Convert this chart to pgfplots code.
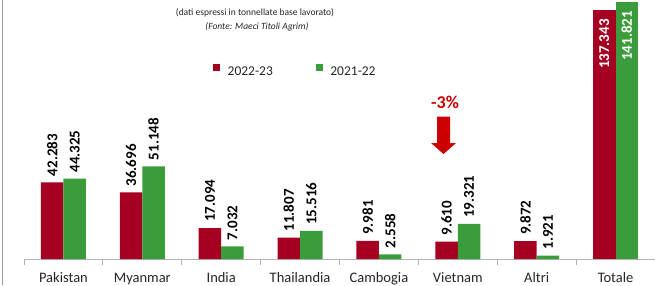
\documentclass[border=0pt]{standalone}
\usepackage{pgfplots}
\pgfplotsset{compat=1.18}
\usepackage{fontspec}
\setmainfont{Carlito}
\definecolor{barred}{RGB}{165,0,33}
\definecolor{bargreen}{RGB}{58,156,58}
\definecolor{arrowred}{RGB}{204,0,0}
\definecolor{txt}{RGB}{38,38,38}
\begin{document}
\begin{tikzpicture}
\useasboundingbox (0,0) rectangle (655pt,285pt);
\fill[white] (0,0) rectangle (655pt,285pt);
\draw[gray!80, line width=0.8pt] (2.5pt,0) -- (2.5pt,285pt);
\begin{axis}[
  at={(24pt,26pt)}, anchor=south west,
  scale only axis, width=631pt, height=259pt,
  xmin=-0.5, xmax=7.5, ymin=0, ymax=142857,
  clip=false,
  axis x line=bottom, axis y line=none,
  x axis line style={-, draw=gray!60, line width=0.8pt},
  xtick={0,1,2,3,4,5,6,7},
  xticklabels={Pakistan,Myanmar,India,Thailandia,Cambogia,Vietnam,Altri,Totale},
  major tick length=0pt,
  minor xtick={-0.5,0.5,1.5,2.5,3.5,4.5,5.5,6.5,7.5},
  minor tick length=6pt, tick align=outside,
  minor tick style={draw=gray!60, line width=0.8pt},
  xticklabel style={font=\fontsize{14.5}{16}\selectfont, text=txt, inner sep=0pt, anchor=north, text height=10pt, text depth=3pt, yshift=-13pt},
  ybar=0pt, bar width=22.5pt,
  /pgf/number format/assume math mode=true,
  /pgf/number format/fixed, /pgf/number format/precision=0,
  /pgf/number format/1000 sep={.},
  nodes near coords,
  every node near coord/.append style={rotate=90, anchor=west, font=\fontsize{15}{16}\selectfont\bfseries, text=black, inner xsep=6pt, inner ysep=0pt},
  legend style={at={(0.2995,0.7278)}, anchor=west, draw=none, fill=none, legend columns=2,
    font=\fontsize{13.5}{15}\selectfont, text=txt, inner sep=0pt, nodes={inner sep=0pt}, column sep=0pt,
    /tikz/every odd column/.append style={column sep=7.5pt},
    /tikz/every even column/.append style={column sep=43pt}},
  legend cell align=left,
]
\addplot[fill=barred, draw=none, bar shift=-11.25pt,
  legend image code/.code={\fill[barred] (0pt,0.5pt) rectangle (7pt,7.5pt);}]
  coordinates {(0,42283) (1,36696) (2,17094) (3,11807) (4,9981) (5,9610) (6,9872)};
\addplot[fill=bargreen, draw=none, bar shift=11.25pt,
  legend image code/.code={\fill[bargreen] (0pt,0.5pt) rectangle (7pt,7.5pt);}]
  coordinates {(0,44325) (1,51148) (2,7032) (3,15516) (4,2558) (5,19321) (6,1921)};
\addplot[fill=barred, draw=none, bar shift=-11.25pt, forget plot,
  every node near coord/.append style={anchor=east, text=white, inner xsep=9pt}]
  coordinates {(7,137343)};
\addplot[fill=bargreen, draw=none, bar shift=11.25pt, forget plot,
  every node near coord/.append style={anchor=east, text=white, inner xsep=9pt}]
  coordinates {(7,141821)};
\legend{2022-23,2021-22}
\end{axis}
\node[font=\fontsize{9.5}{11}\selectfont, text=txt] at (255pt,272pt) {(dati espressi in tonnellate base lavorato)};
\node[font=\fontsize{9.5}{11}\selectfont\itshape, text=txt] at (257pt,258pt) {(Fonte: Maeci Titoli Agrim)};
\node[font=\fontsize{18}{20}\selectfont\bfseries, text=arrowred] at (445pt,182.3pt) {-3\%};
\fill[arrowred] (437pt,168.3pt) -- (450pt,168.3pt) -- (450pt,142pt) -- (456pt,142pt) -- (443.5pt,131pt) -- (431pt,142pt) -- (437pt,142pt) -- cycle;
\end{tikzpicture}
\end{document}
